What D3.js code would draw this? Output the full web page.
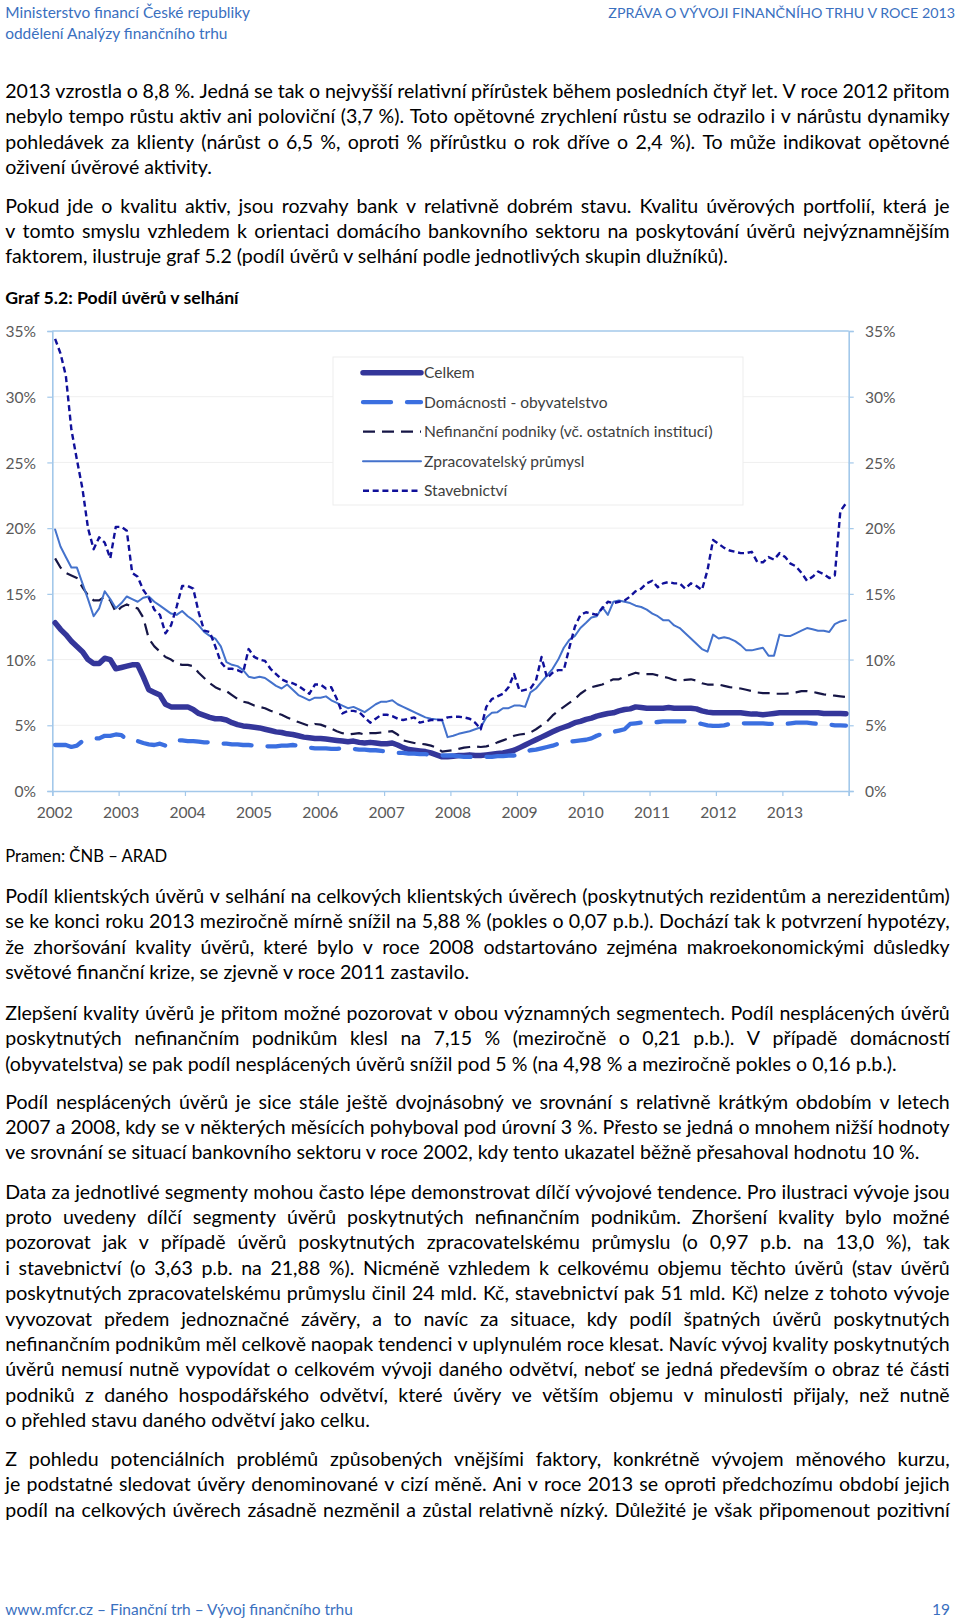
<!DOCTYPE html>
<html><head><meta charset="utf-8">
<script src="https://cdn.jsdelivr.net/npm/d3@7"></script>
<style>html,body{margin:0;padding:0;background:#fff;}svg{display:block;}</style>
</head><body>
<svg id="page" width="960" height="1621"></svg>
<script>
// ---------------- DATA ----------------
const years = ["2002","2003","2004","2005","2006","2007","2008","2009","2010","2011","2012","2013"];
const yTickValues = [0,5,10,15,20,25,30,35];
const seriesNames = ["Celkem","Domácnosti - obyvatelstvo","Nefinanční podniky (vč. ostatních institucí)","Zpracovatelský průmysl","Stavebnictví"];

// monthly values (%), Jan 2002 – Dec 2013, one row per year
const celkem = [
 12.8,12.3,11.9,11.4,11.0,10.6,10.0,9.7,9.7,10.1,10.0,9.3,
 9.4,9.5,9.6,9.6,8.7,7.7,7.5,7.3,6.6,6.4,6.4,6.4,
 6.4,6.2,5.9,5.75,5.6,5.5,5.5,5.4,5.2,5.05,4.95,4.9,
 4.85,4.8,4.7,4.6,4.5,4.45,4.35,4.3,4.2,4.1,4.05,4.0,
 4.0,3.95,3.9,3.85,3.8,3.75,3.8,3.7,3.65,3.7,3.65,3.6,
 3.6,3.65,3.5,3.3,3.15,3.1,3.05,3.0,2.9,2.75,2.6,2.6,
 2.65,2.7,2.7,2.75,2.7,2.7,2.75,2.8,2.85,2.9,3.0,3.1,
 3.3,3.5,3.7,3.9,4.1,4.3,4.5,4.7,4.85,5.0,5.2,5.3,
 5.45,5.55,5.7,5.8,5.9,5.95,6.1,6.2,6.25,6.4,6.35,6.3,
 6.3,6.3,6.3,6.35,6.3,6.3,6.3,6.3,6.25,6.1,6.0,5.95,
 5.95,5.95,5.95,5.95,5.95,5.9,5.85,5.85,5.8,5.85,5.9,5.95,
 5.95,5.95,5.95,5.95,5.95,5.95,5.95,5.9,5.9,5.9,5.9,5.88
];
const domacnosti = [
 3.5,3.5,3.5,3.35,3.45,3.8,3.9,4.0,4.0,4.2,4.2,4.3,
 4.25,3.9,3.85,3.8,3.65,3.55,3.5,3.6,3.45,3.6,3.85,3.85,
 3.8,3.8,3.75,3.7,3.7,3.65,3.6,3.6,3.55,3.55,3.5,3.5,
 3.45,3.45,3.4,3.4,3.4,3.45,3.45,3.5,3.45,3.35,3.3,3.25,
 3.25,3.25,3.2,3.2,3.25,3.2,3.2,3.15,3.15,3.1,3.1,3.05,
 3.0,2.95,2.9,2.9,2.85,2.85,2.8,2.8,2.75,2.75,2.7,2.7,
 2.7,2.65,2.6,2.6,2.55,2.6,2.6,2.6,2.65,2.65,2.7,2.7,
 2.8,2.95,3.1,3.15,3.25,3.35,3.45,3.6,3.7,3.75,3.8,3.85,
 3.9,4.0,4.2,4.35,4.4,4.5,4.6,4.7,5.1,5.15,5.2,5.2,
 5.2,5.25,5.3,5.3,5.3,5.3,5.3,5.25,5.2,5.1,5.0,4.95,
 4.95,5.0,5.1,5.1,5.15,5.15,5.15,5.15,5.15,5.1,5.1,5.1,
 5.1,5.15,5.2,5.2,5.2,5.15,5.1,5.1,5.05,5.0,5.0,4.98
];
const nefinancni = [
 17.7,17.0,16.6,16.4,16.2,15.5,14.9,14.5,14.5,14.8,14.5,13.6,
 14.0,14.2,14.0,13.9,13.2,11.6,11.0,10.6,10.2,10.0,9.7,9.6,
 9.6,9.5,9.0,8.6,8.2,7.9,7.7,7.6,7.3,7.0,6.8,6.7,
 6.5,6.4,6.3,6.1,5.95,5.8,5.6,5.4,5.25,5.1,4.95,5.1,
 5.05,4.9,4.75,4.55,4.4,4.3,4.35,4.4,4.3,4.4,4.4,4.45,
 4.5,4.55,4.3,3.85,3.75,3.65,3.6,3.55,3.45,3.3,3.0,3.05,
 3.1,3.2,3.3,3.35,3.4,3.35,3.4,3.5,3.7,3.85,4.0,4.2,
 4.3,4.35,4.45,4.7,5.0,5.3,5.75,6.1,6.4,6.7,7.0,7.4,
 7.7,7.9,8.0,8.1,8.3,8.5,8.5,8.7,8.85,9.0,8.9,8.9,
 8.9,8.8,8.7,8.6,8.45,8.4,8.45,8.5,8.4,8.2,8.1,8.1,
 8.1,8.0,7.9,7.85,7.8,7.7,7.6,7.5,7.45,7.45,7.4,7.4,
 7.4,7.45,7.5,7.6,7.6,7.55,7.45,7.35,7.3,7.25,7.2,7.15
];
const zpracovatelsky = [
 19.9,18.6,17.8,17.0,17.0,15.8,14.6,13.3,13.9,15.2,14.6,13.9,
 14.3,14.8,14.6,14.4,14.7,14.8,14.4,14.1,13.8,13.5,13.4,13.7,
 13.3,13.0,12.6,12.1,11.8,11.6,11.0,9.8,9.6,9.5,9.2,8.7,
 8.6,8.7,8.6,8.3,8.0,7.8,8.1,7.7,7.3,7.1,6.9,7.1,
 7.1,7.2,6.9,6.7,6.5,6.3,6.4,6.2,6.0,6.3,6.6,6.8,
 6.8,6.9,6.6,6.4,6.2,6.0,5.8,5.6,5.5,5.45,5.4,4.1,
 4.2,4.35,4.45,4.55,4.7,4.85,5.6,5.95,6.0,6.3,6.3,6.5,
 6.5,6.4,7.5,7.8,8.3,8.8,9.3,10.0,10.9,11.5,11.8,12.4,
 12.8,13.2,13.3,14.0,13.4,14.4,14.5,14.4,14.3,14.1,14.0,13.8,
 13.5,13.3,13.0,13.0,12.6,12.4,12.0,11.6,11.2,10.8,10.6,11.9,
 11.6,11.7,11.6,11.4,11.1,10.7,10.7,10.8,10.9,10.3,10.3,11.9,
 11.8,11.8,12.0,12.2,12.4,12.3,12.2,12.2,12.1,12.7,12.9,13.0
];
const stavebnictvi = [
 34.4,33.3,31.6,27.5,25.2,23.0,20.0,18.4,19.3,18.9,17.7,20.1,
 20.1,19.8,16.6,16.3,15.3,14.7,13.8,13.4,12.0,12.6,14.0,15.6,
 15.6,15.4,13.6,12.2,12.1,11.0,9.8,9.3,9.3,9.2,9.0,10.8,
 10.2,10.0,9.9,9.3,8.9,8.5,8.3,8.2,8.0,7.7,7.4,8.1,
 8.1,7.8,7.9,7.0,5.9,6.1,6.1,6.0,5.6,5.2,5.5,5.8,
 5.8,5.7,5.5,5.4,5.5,5.6,5.2,5.3,5.4,5.4,5.4,5.6,
 5.65,5.65,5.6,5.5,5.2,4.7,6.4,7.0,7.2,7.4,7.9,8.9,
 7.6,7.7,7.8,8.4,10.2,8.6,9.0,9.2,9.2,10.9,12.5,13.4,
 13.6,13.5,13.4,13.9,14.4,14.3,14.4,14.5,14.8,15.2,15.4,15.8,
 16.0,15.5,15.8,15.9,15.8,15.8,15.4,15.8,15.6,15.3,16.8,19.1,
 18.8,18.5,18.3,18.2,18.1,18.1,18.2,17.4,17.4,17.8,17.6,18.1,
 17.8,17.3,17.1,16.6,16.0,16.3,16.7,16.5,16.2,16.4,21.3,21.88
];

// ---------------- TEXTS ----------------
const headerLeft = ["Ministerstvo financí České republiky","oddělení Analýzy finančního trhu"];
const headerRight = "ZPRÁVA O VÝVOJI FINANČNÍHO TRHU V ROCE 2013";
const chartTitle = "Graf 5.2: Podíl úvěrů v selhání";
const sourceNote = "Pramen: ČNB – ARAD";
const footerLeft = "www.mfcr.cz – Finanční trh – Vývoj finančního trhu";
const footerRight = "19";
const paraTop = [
 ["2013 vzrostla o 8,8 %. Jedná se tak o nejvyšší relativní přírůstek během posledních čtyř let. V roce 2012 přitom",
  "nebylo tempo růstu aktiv ani poloviční (3,7 %). Toto opětovné zrychlení růstu se odrazilo i v nárůstu dynamiky",
  "pohledávek za klienty (nárůst o 6,5 %, oproti % přírůstku o rok dříve o 2,4 %). To může indikovat opětovné",
  "oživení úvěrové aktivity."],
 ["Pokud jde o kvalitu aktiv, jsou rozvahy bank v relativně dobrém stavu. Kvalitu úvěrových portfolií, která je",
  "v tomto smyslu vzhledem k orientaci domácího bankovního sektoru na poskytování úvěrů nejvýznamnějším",
  "faktorem, ilustruje graf 5.2 (podíl úvěrů v selhání podle jednotlivých skupin dlužníků)."]
];
const paraBottom = [
 ["Podíl klientských úvěrů v selhání na celkových klientských úvěrech (poskytnutých rezidentům a nerezidentům)",
  "se ke konci roku 2013 meziročně mírně snížil na 5,88 % (pokles o 0,07 p.b.). Dochází tak k potvrzení hypotézy,",
  "že zhoršování kvality úvěrů, které bylo v roce 2008 odstartováno zejména makroekonomickými důsledky",
  "světové finanční krize, se zjevně v roce 2011 zastavilo."],
 ["Zlepšení kvality úvěrů je přitom možné pozorovat v obou významných segmentech. Podíl nesplácených úvěrů",
  "poskytnutých nefinančním podnikům klesl na 7,15 % (meziročně o 0,21 p.b.). V případě domácností",
  "(obyvatelstva) se pak podíl nesplácených úvěrů snížil pod 5 % (na 4,98 % a meziročně pokles o 0,16 p.b.)."],
 ["Podíl nesplácených úvěrů je sice stále ještě dvojnásobný ve srovnání s relativně krátkým obdobím v letech",
  "2007 a 2008, kdy se v některých měsících pohyboval pod úrovní 3 %. Přesto se jedná o mnohem nižší hodnoty",
  "ve srovnání se situací bankovního sektoru v roce 2002, kdy tento ukazatel běžně přesahoval hodnotu 10 %."],
 ["Data za jednotlivé segmenty mohou často lépe demonstrovat dílčí vývojové tendence. Pro ilustraci vývoje jsou",
  "proto uvedeny dílčí segmenty úvěrů poskytnutých nefinančním podnikům. Zhoršení kvality bylo možné",
  "pozorovat jak v případě úvěrů poskytnutých zpracovatelskému průmyslu (o 0,97 p.b. na 13,0 %), tak",
  "i stavebnictví (o 3,63 p.b. na 21,88 %). Nicméně vzhledem k celkovému objemu těchto úvěrů (stav úvěrů",
  "poskytnutých zpracovatelskému průmyslu činil 24 mld. Kč, stavebnictví pak 51 mld. Kč) nelze z tohoto vývoje",
  "vyvozovat předem jednoznačné závěry, a to navíc za situace, kdy podíl špatných úvěrů poskytnutých",
  "nefinančním podnikům měl celkově naopak tendenci v uplynulém roce klesat. Navíc vývoj kvality poskytnutých",
  "úvěrů nemusí nutně vypovídat o celkovém vývoji daného odvětví, neboť se jedná především o obraz té části",
  "podniků z daného hospodářského odvětví, které úvěry ve větším objemu v minulosti přijaly, než nutně",
  "o přehled stavu daného odvětví jako celku."],
 ["Z pohledu potenciálních problémů způsobených vnějšími faktory, konkrétně vývojem měnového kurzu,",
  "je podstatné sledovat úvěry denominované v cizí měně. Ani v roce 2013 se oproti předchozímu období jejich",
  "podíl na celkových úvěrech zásadně nezměnil a zůstal relativně nízký. Důležité je však připomenout pozitivní"]
];

// ---------------- LAYOUT / STYLE ----------------
const FONT = 'Lato, "Open Sans", sans-serif';
const svg = d3.select('#page');
svg.append('rect').attr('width',960).attr('height',1621).attr('fill','#fff');
const tmp = svg.append('text').attr('font-family', FONT).attr('x',-2000).attr('y',-2000);
function tw(str, size, weight){
  tmp.attr('font-size', size).attr('font-weight', weight||'normal').text(str);
  return tmp.node().getComputedTextLength();
}
function fitSize(str, target, weight){ return 100*target/tw(str,100,weight); }

const bodySize = fitSize(paraTop[1][2], 723);
const headSize = fitSize(headerLeft[0], 245);
const headRightSize = fitSize(headerRight, 347);
const titleSize = fitSize(chartTitle, 233.5, 'bold');
const sourceSize = fitSize(sourceNote, 162);
const chartSize = fitSize(seriesNames[2], 289);
const blue = '#3a70bf';
const L = 5.2, R = 949.7, LH = 25.4;

function plain(x, yc, str, size, opts={}){
  return svg.append('text').attr('x',x).attr('y', yc + 0.36*size)
    .attr('font-family',FONT).attr('font-size',size)
    .attr('font-weight',opts.weight||'normal')
    .attr('fill',opts.fill||'#000')
    .attr('text-anchor',opts.anchor||'start').text(str);
}
function justified(yc, str, size){
  const words = str.split(' ');
  const widths = words.map(w=>tw(w,size));
  const gap = (R - L - d3.sum(widths))/(words.length-1);
  const t = svg.append('text').attr('y', yc + 0.36*size)
    .attr('font-family',FONT).attr('font-size',size).attr('fill','#000');
  let x = L;
  words.forEach((w,i)=>{ t.append('tspan').attr('x',x).text(w); x += widths[i]+gap; });
}
function paragraph(lines, y0, justifyLast){
  lines.forEach((ln,i)=>{
    const yc = y0 + i*LH;
    if(i < lines.length-1 || justifyLast) justified(yc, ln, bodySize);
    else plain(L, yc, ln, bodySize);
  });
}

// header & footer
plain(L, 12.4, headerLeft[0], headSize, {fill:blue});
plain(L, 33, headerLeft[1], headSize, {fill:blue});
plain(955, 12.4, headerRight, headRightSize, {fill:blue, anchor:'end'});
plain(L, 1609, footerLeft, headSize, {fill:blue});
plain(950, 1609, footerRight, headSize, {fill:blue, anchor:'end'});

// paragraphs
paragraph(paraTop[0], 91, false);
paragraph(paraTop[1], 205.6, false);
plain(L, 297.6, chartTitle, titleSize, {weight:'bold'});
plain(L, 855.6, sourceNote, sourceSize);
const bottomStarts = [896, 1012.7, 1101.5, 1191.5, 1459];
paraBottom.forEach((p,i)=>paragraph(p, bottomStarts[i], i===paraBottom.length-1));

// ---------------- CHART ----------------
const plot = {left:52.3, right:848.7, top:331, bottom:791};
const x = d3.scaleTime().domain([new Date(+years[0],0,1), new Date(+years[years.length-1]+1,0,1)])
  .range([plot.left, plot.right]);
const y = d3.scaleLinear().domain([0,35]).range([plot.bottom, plot.top]);
const months = years.flatMap(yr => d3.range(12).map(m => new Date(+yr, m, 1)));
const mx = d => (x(d) + x(d3.timeMonth.offset(d,1)))/2;

const g = svg.append('g');
// gridlines
g.selectAll('line.grid').data(yTickValues.filter(v=>v>0 && v<35)).join('line')
  .attr('x1',plot.left).attr('x2',plot.right).attr('y1',d=>y(d)).attr('y2',d=>y(d))
  .attr('stroke','#efefef').attr('stroke-width',1);

const axisCol = '#a3c8ea';
const yAxisL = d3.axisLeft(y).tickValues(yTickValues).tickSize(5).tickFormat(d=>d+'%');
const gl = g.append('g').attr('transform',`translate(${plot.left},0)`).call(yAxisL);
const yAxisR = d3.axisRight(y).tickValues(yTickValues).tickSize(5).tickFormat(d=>d+'%');
const gr = g.append('g').attr('transform',`translate(${plot.right},0)`).call(yAxisR);
const tickYears = years.concat([String(+years[years.length-1]+1)]).map(s=>new Date(+s,0,1));
const xAxis = d3.axisBottom(x).tickValues(tickYears).tickSize(5).tickFormat('');
const gb = g.append('g').attr('transform',`translate(0,${plot.bottom})`).call(xAxis);
[gl,gr,gb].forEach(a=>{
  a.select('.domain').attr('stroke',axisCol).attr('stroke-width',1.6);
  a.selectAll('.tick line').attr('stroke',axisCol).attr('stroke-width',1.2);
  a.selectAll('.tick text').attr('font-family',FONT).attr('font-size',chartSize).attr('fill','#595959');
});
gl.selectAll('.tick text').attr('x',-16.3).attr('dy','0.36em');
gr.selectAll('.tick text').attr('x',16.3).attr('dy','0.36em');
g.append('line').attr('x1',plot.left).attr('x2',plot.right).attr('y1',plot.top).attr('y2',plot.top)
  .attr('stroke',axisCol).attr('stroke-width',1.6);
g.selectAll('text.year').data(years).join('text')
  .attr('x',d=>x(new Date(+d,0,15))).attr('y',812 + 0.36*chartSize)
  .attr('text-anchor','middle').attr('font-family',FONT).attr('font-size',chartSize)
  .attr('fill','#595959').text(d=>d);

// series
const styles = [
  {data:celkem, color:'#34369a', width:5.5, dash:null, cap:'round'},
  {data:domacnosti, color:'#3b6fe0', width:4.3, dash:'28,16', cap:'round'},
  {data:nefinancni, color:'#161646', width:2.2, dash:'12,7', cap:'butt'},
  {data:zpracovatelsky, color:'#4472cc', width:2, dash:null, cap:'round'},
  {data:stavebnictvi, color:'#10109a', width:2.4, dash:'6,3.7', cap:'butt'}
];
const line = d3.line().x((d,i)=>mx(months[i])).y(d=>y(d));
styles.forEach(s=>{
  g.append('path').datum(s.data).attr('d',line).attr('fill','none')
    .attr('stroke',s.color).attr('stroke-width',s.width)
    .attr('stroke-dasharray',s.dash).attr('stroke-linecap',s.cap).attr('stroke-linejoin','round');
});

// legend
const lg = g.append('g');
lg.append('rect').attr('x',333).attr('y',357).attr('width',410).attr('height',148)
  .attr('fill','#fff').attr('stroke','#ededed').attr('stroke-width',1);
styles.forEach((s,i)=>{
  const yc = 372.7 + i*29.5;
  lg.append('line').attr('x1',363).attr('x2',421).attr('y1',yc).attr('y2',yc)
    .attr('stroke',s.color).attr('stroke-width',s.width)
    .attr('stroke-dasharray',s.dash).attr('stroke-linecap',s.cap);
  lg.append('text').attr('x',424).attr('y',yc+0.36*chartSize)
    .attr('font-family',FONT).attr('font-size',chartSize).attr('fill','#404040').text(seriesNames[i]);
});
tmp.remove();
</script>
</body></html>
